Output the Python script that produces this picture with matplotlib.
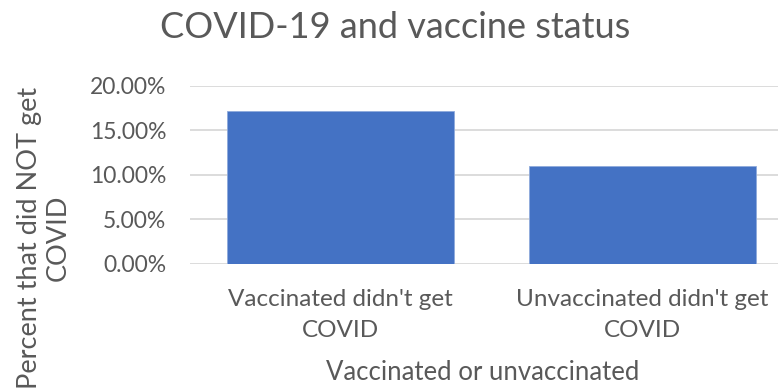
import numpy as np
import matplotlib
matplotlib.use('Agg')
import matplotlib.pyplot as plt
from matplotlib.ticker import PercentFormatter

categories = ["Vaccinated didn't get\nCOVID", "Unvaccinated didn't get\nCOVID"]
values = [0.1719, 0.1097]
yticks = [0.0, 0.05, 0.10, 0.15, 0.20]

plt.rcParams['font.family'] = ['Lato', 'DejaVu Sans']
text_color = '#595959'

fig = plt.figure(figsize=(7.78, 3.9), dpi=100)
W, H = 778, 390
left, right = 190, 793
bottom, top = 264, 85.7
ax = fig.add_axes([left / W, 1 - bottom / H, (right - left) / W, (bottom - top) / H])

x = np.arange(len(categories))
ax.bar(x, values, width=0.753, color='#4472C4', edgecolor='#8FAADC', linewidth=0.6, zorder=3)
ax.set_xlim(-0.5, 1.5)
ax.set_ylim(0, 0.2)
ax.set_yticks(yticks)
ax.yaxis.set_major_formatter(PercentFormatter(1.0, decimals=2))
ax.grid(axis='y', color='#D9D9D9', linewidth=1.3, zorder=0)
for s in ax.spines.values():
    s.set_visible(False)
ax.tick_params(axis='y', length=0, labelsize=16.5, colors=text_color, pad=17)
ax.set_xticks(x)
ax.set_xticklabels(categories, linespacing=1.6)
ax.tick_params(axis='x', length=0, labelsize=17.5, colors=text_color, pad=18)

fig.text(395 / W, 1 - 28 / H, 'COVID-19 and vaccine status', ha='center', va='center',
         fontsize=26, color=text_color)
fig.text(483 / W, 1 - 373 / H, 'Vaccinated or unvaccinated', ha='center', va='center',
         fontsize=18.5, color=text_color)
fig.text(44 / W, 1 - 238 / H, 'Percent that did NOT get\nCOVID', ha='center', va='center',
         rotation=90, fontsize=19.5, color=text_color, linespacing=1.15)

fig.savefig('out.png', dpi=100)
